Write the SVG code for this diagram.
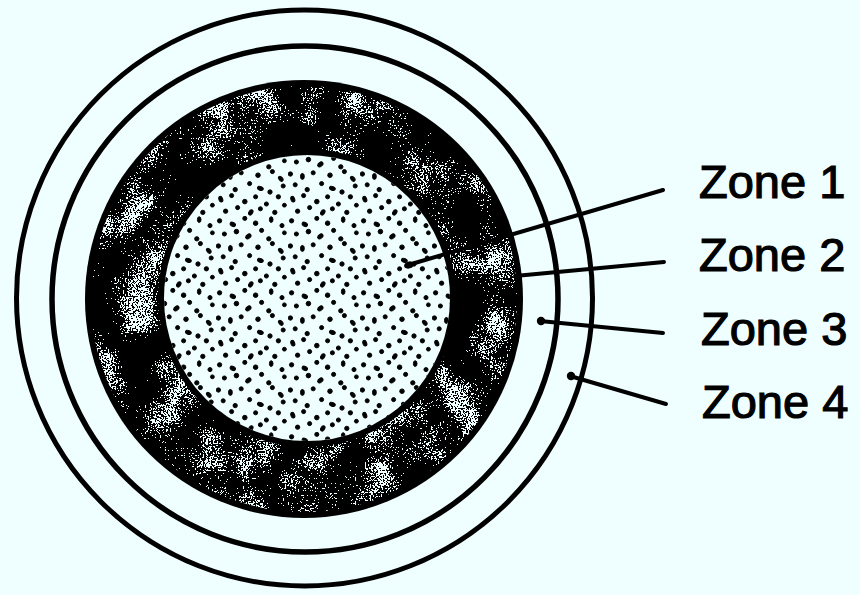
<svg xmlns="http://www.w3.org/2000/svg" width="860" height="595" viewBox="0 0 860 595">
  <style>
    .ring { fill: none; stroke: #000; }
    .lead { stroke: #000; stroke-width: 4; stroke-linecap: round; fill: none; }
    .tip { fill: #000; }
    .label { font-family: "Liberation Sans", Arial, sans-serif; font-size: 47px; fill: #000; stroke: #000; stroke-width: 1.2; }
  </style>
  <defs>
    <pattern id="dots" x="0" y="0" width="60" height="60" patternUnits="userSpaceOnUse" patternTransform="scale(1.2)">
      <g fill="#000" stroke="#000" stroke-width="0.8">
        <circle cx="3" cy="4" r="1.8"/><ellipse cx="14" cy="7" rx="2.4" ry="1.6" transform="rotate(30 14 7)"/><circle cx="24" cy="2" r="1.7"/><circle cx="33" cy="6" r="1.9"/><ellipse cx="46" cy="3" rx="1.5" ry="2.4"/><circle cx="55" cy="8" r="1.7"/>
        <circle cx="7" cy="15" r="1.7"/><circle cx="17" cy="13" r="1.9"/><ellipse cx="27" cy="17" rx="2.5" ry="1.6" transform="rotate(-40 27 17)"/><circle cx="38" cy="12" r="1.7"/><circle cx="44" cy="19" r="1.8"/><circle cx="57" cy="14" r="1.6"/>
        <circle cx="2" cy="25" r="1.8"/><ellipse cx="12" cy="27" rx="1.6" ry="2.5"/><circle cx="21" cy="24" r="1.7"/><circle cx="35" cy="26" r="1.9"/><circle cx="47" cy="23" r="1.7"/><ellipse cx="54" cy="29" rx="2.4" ry="1.5" transform="rotate(50 54 29)"/>
        <circle cx="6" cy="34" r="1.7"/><circle cx="16" cy="38" r="1.8"/><circle cx="28" cy="33" r="1.7"/><ellipse cx="37" cy="37" rx="2.5" ry="1.6" transform="rotate(20 37 37)"/><circle cx="45" cy="40" r="1.8"/><circle cx="56" cy="35" r="1.7"/>
        <ellipse cx="4" cy="46" rx="1.6" ry="2.4" transform="rotate(-20 4 46)"/><circle cx="13" cy="43" r="1.7"/><circle cx="24" cy="48" r="1.9"/><circle cx="33" cy="44" r="1.7"/><circle cx="42" cy="50" r="1.7"/><circle cx="52" cy="44" r="1.8"/>
        <circle cx="8" cy="56" r="1.8"/><circle cx="18" cy="53" r="1.7"/><ellipse cx="29" cy="57" rx="2.4" ry="1.6" transform="rotate(-60 29 57)"/><circle cx="37" cy="54" r="1.7"/><circle cx="49" cy="57" r="1.8"/><circle cx="57" cy="51" r="1.6"/>
      </g>
    </pattern>
    <filter id="speck" x="0" y="0" width="100%" height="100%" color-interpolation-filters="sRGB">
      <feTurbulence type="fractalNoise" baseFrequency="0.6" numOctaves="2" seed="4" result="f"/>
      <feColorMatrix in="f" type="matrix" values="1 0 0 0 0  1 0 0 0 0  1 0 0 0 0  0 0 0 0 1" result="fg"/>
      <feTurbulence type="fractalNoise" baseFrequency="0.025" numOctaves="3" seed="9" result="c"/>
      <feColorMatrix in="c" type="matrix" values="1 0 0 0 0  1 0 0 0 0  1 0 0 0 0  0 0 0 0 1" result="cg"/>
      <feComposite in="fg" in2="cg" operator="arithmetic" k2="1.3" k3="1.2" k4="-0.97" result="s"/>
      <feComponentTransfer in="s" result="t">
        <feFuncR type="discrete" tableValues="0 1"/>
      </feComponentTransfer>
      <feColorMatrix in="t" type="matrix" values="0 0 0 0 0.94  0 0 0 0 1  0 0 0 0 1  1 0 0 0 0"/>
    </filter>
    <clipPath id="bandClip">
      <circle cx="304" cy="299" r="213"/>
    </clipPath>
  </defs>

  <rect width="860" height="595" fill="#effefe"/>

  <g id="zone4">
    <circle class="ring" cx="304.5" cy="298" r="288" stroke-width="5"/>
  </g>
  <g id="zone3">
    <circle class="ring" cx="305" cy="299" r="253" stroke-width="5.5"/>
  </g>
  <g id="zone2">
    <circle cx="304" cy="299" r="219" fill="#000"/>
    <g clip-path="url(#bandClip)">
      <rect x="85" y="80" width="440" height="440" fill="#fff" filter="url(#speck)"/>
    </g>
  </g>
  <g id="zone1">
    <circle cx="307" cy="298" r="146" fill="#effefe" stroke="#000" stroke-width="6"/>
    <circle cx="307" cy="298" r="143" fill="url(#dots)"/>
  </g>

  <g id="connectors">
    <line class="lead" x1="663" y1="190" x2="408" y2="265"/>
    <ellipse class="tip" cx="409" cy="265" rx="5" ry="3.5" transform="rotate(-16 409 265)"/>
    <line class="lead" x1="664" y1="262" x2="515" y2="276"/>
    <line class="lead" x1="663" y1="333" x2="540" y2="321"/>
    <circle class="tip" cx="541" cy="321" r="4.2"/>
    <line class="lead" x1="666" y1="404" x2="570" y2="376"/>
    <circle class="tip" cx="571" cy="376" r="4.2"/>
  </g>

  <g id="labels">
    <text id="label1" class="label" x="699" y="198">Zone 1</text>
    <text id="label2" class="label" x="699" y="271">Zone 2</text>
    <text id="label3" class="label" x="701" y="345">Zone 3</text>
    <text id="label4" class="label" x="702" y="418">Zone 4</text>
  </g>
</svg>
